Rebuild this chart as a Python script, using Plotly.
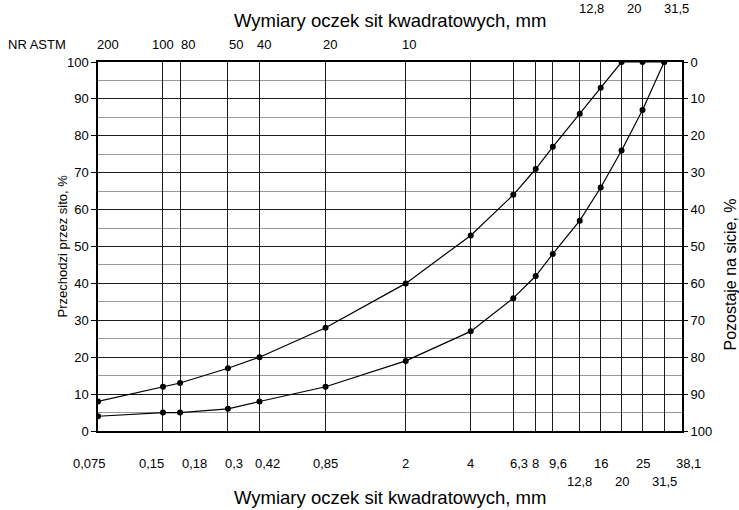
import numpy as np
import plotly.graph_objects as go

# ---- data ----
sieve_sizes = [0.075, 0.15, 0.18, 0.3, 0.42, 0.85, 2, 4, 6.3, 8, 9.6, 12.8, 16, 20, 25, 31.5, 38.1]
row1_sizes = [0.075, 0.15, 0.18, 0.3, 0.42, 0.85, 2, 4, 6.3, 8, 9.6, 16, 25, 38.1]
row1_labels = ["0,075", "0,15", "0,18", "0,3", "0,42", "0,85", "2", "4", "6,3", "8", "9,6", "16", "25", "38,1"]
row2_sizes = [12.8, 20, 31.5]
row2_labels = ["12,8", "20", "31,5"]

astm_sizes = [0.075, 0.15, 0.18, 0.3, 0.42, 0.85, 2]
astm_numbers = ["200", "100", "80", "50", "40", "20", "10"]

upper_sizes = [0.075, 0.15, 0.18, 0.3, 0.42, 0.85, 2, 4, 6.3, 8, 9.6, 12.8, 16, 20, 25, 31.5]
upper_pass = [8, 12, 13, 17, 20, 28, 40, 53, 64, 71, 77, 86, 93, 100, 100, 100]

lower_sizes = [0.075, 0.15, 0.18, 0.3, 0.42, 0.85, 2, 4, 6.3, 8, 9.6, 12.8, 16, 20, 25, 31.5]
lower_pass = [4, 5, 5, 6, 8, 12, 19, 27, 36, 42, 48, 57, 66, 76, 87, 100]

y_ticks = [0, 10, 20, 30, 40, 50, 60, 70, 80, 90, 100]

FONT = "Liberation Sans, Arial, sans-serif"

fig = go.Figure()
for xs, ys in [(upper_sizes, upper_pass), (lower_sizes, lower_pass)]:
    fig.add_trace(go.Scatter(x=xs, y=ys, mode="lines+markers",
                             line=dict(color="black", width=1.2),
                             marker=dict(color="black", size=6),
                             showlegend=False, hoverinfo="skip"))
# invisible trace to carry the right-hand (retained) axis
fig.add_trace(go.Scatter(x=[sieve_sizes[0]], y=[0], yaxis="y2", mode="markers",
                         marker=dict(opacity=0), showlegend=False, hoverinfo="skip"))

xr = [np.log10(sieve_sizes[0]), np.log10(sieve_sizes[-1])]

fig.update_layout(
    width=739, height=510,
    margin=dict(l=98, r=57, t=62, b=79, autoexpand=False),
    paper_bgcolor="white", plot_bgcolor="white",
    font=dict(family=FONT, size=13, color="black"),
    xaxis=dict(type="log", range=xr, tickmode="array", tickvals=sieve_sizes,
               showticklabels=False, showgrid=True, gridcolor="#1a1a1a", gridwidth=1,
               showline=True, linecolor="black", linewidth=1.5, mirror=True,
               ticks="", zeroline=False, automargin=False),
    yaxis=dict(range=[0, 100], tickvals=y_ticks, showgrid=True, gridcolor="#1a1a1a",
               gridwidth=1, showline=True, linecolor="black", linewidth=1.5, mirror=True,
               ticks="outside", ticklen=5, tickcolor="black", zeroline=False,
               automargin=False,
               minor=dict(dtick=5, showgrid=True, gridcolor="#9a9a9a", gridwidth=1, ticks=""),
               tickfont=dict(size=13)),
    yaxis2=dict(range=[100, 0], overlaying="y", side="right", tickvals=y_ticks,
                showgrid=False, ticks="outside", ticklen=5, tickcolor="black",
                showline=False, zeroline=False, automargin=False, tickfont=dict(size=13)),
)

# small horizontal nudges for labels (style only)
row1_nudge = {0.075: -9, 0.15: -11, 0.18: 14, 0.3: 6, 0.42: 8, 6.3: 6, 9.6: 5, 38.1: 6}
astm_nudge = {0.075: 10, 0.15: 0, 0.18: 8, 0.3: 8, 0.42: 5, 0.85: 4, 2: 3}

ann = []
for s, t in zip(row1_sizes, row1_labels):
    ann.append(dict(x=np.log10(s), y=0, xref="x", yref="paper", text=t, showarrow=False,
                    xanchor="center", yanchor="middle", yshift=-32, xshift=row1_nudge.get(s, 0),
                    font=dict(size=13)))
# second row of bottom labels, and the same sizes printed at the top edge
for s, t in zip(row2_sizes, row2_labels):
    ann.append(dict(x=np.log10(s), y=0, xref="x", yref="paper", text=t, showarrow=False,
                    xanchor="center", yanchor="middle", yshift=-50, font=dict(size=13)))
    ann.append(dict(x=np.log10(s), y=1, xref="x", yref="paper", text=t, showarrow=False,
                    xanchor="center", yanchor="middle", yshift=54, xshift=12, font=dict(size=13)))
# ASTM numbers on top
for s, t in zip(astm_sizes, astm_numbers):
    ann.append(dict(x=np.log10(s), y=1, xref="x", yref="paper", text=t, showarrow=False,
                    xanchor="center", yanchor="middle", yshift=18, xshift=astm_nudge.get(s, 0),
                    font=dict(size=13)))
ann.append(dict(x=0, y=1, xref="paper", yref="paper", text="NR ASTM", showarrow=False,
                xanchor="center", yanchor="middle", xshift=-61, yshift=18, font=dict(size=13)))
# titles
ann.append(dict(x=0.5, y=1, xref="paper", yref="paper", text="Wymiary oczek sit kwadratowych, mm",
                showarrow=False, xanchor="center", yanchor="middle", yshift=42, font=dict(size=18.5)))
ann.append(dict(x=0.5, y=0, xref="paper", yref="paper", text="Wymiary oczek sit kwadratowych, mm",
                showarrow=False, xanchor="center", yanchor="middle", yshift=-66, font=dict(size=18.5)))
ann.append(dict(x=0, y=0.5, xref="paper", yref="paper", text="Przechodzi przez sito, %",
                showarrow=False, xanchor="center", yanchor="middle", xshift=-36, textangle=-90,
                font=dict(size=13)))
ann.append(dict(x=1, y=0.5, xref="paper", yref="paper", text="Pozostaje na sicie, %",
                showarrow=False, xanchor="center", yanchor="middle", xshift=48, yshift=-28,
                textangle=-90, font=dict(size=16)))
fig.update_layout(annotations=ann)

fig.write_html("out.html", config={"displayModeBar": False},
               post_script="document.body.style.margin='0';document.body.style.padding='0';")
